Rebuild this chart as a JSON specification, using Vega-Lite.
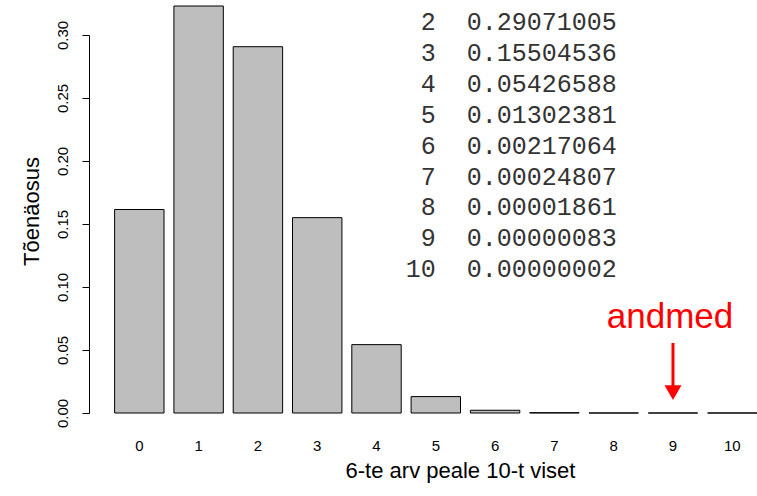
{
  "$schema": "https://vega.github.io/schema/vega-lite/v6.json",
  "width": 668,
  "height": 378,
  "autosize": {"type": "none"},
  "padding": {"left": 89, "top": 35, "right": 0, "bottom": 83},
  "background": "white",
  "config": {"view": {"stroke": null}, "font": "Liberation Sans"},
  "data": {"values": [
    {"k": 0, "p": 0.16150558},
    {"k": 1, "p": 0.32301117},
    {"k": 2, "p": 0.29071005},
    {"k": 3, "p": 0.15504536},
    {"k": 4, "p": 0.05426588},
    {"k": 5, "p": 0.01302381},
    {"k": 6, "p": 0.00217064},
    {"k": 7, "p": 0.00024807},
    {"k": 8, "p": 0.00001861},
    {"k": 9, "p": 0.00000083},
    {"k": 10, "p": 0.00000002}
  ]},
  "layer": [
    {
      "layer": [
        {
          "mark": {"type": "bar", "fill": "#bebebe", "stroke": "#000000", "strokeWidth": 1},
          "encoding": {
            "x": {
              "field": "k", "type": "ordinal",
              "scale": {"paddingInner": 0.1667, "paddingOuter": 0.216, "align": 1},
              "axis": {
                "domain": false, "ticks": false, "tickSize": 0, "labelAngle": 0,
                "labelFontSize": 15, "labelColor": "#000000", "labelPadding": 25,
                "title": "6-te arv peale 10-t viset", "titleFontSize": 22, "titleFontWeight": "normal",
                "titleColor": "#000000", "titleX": 371, "titleY": 57, "titleBaseline": "middle", "titleAlign": "center"
              }
            },
            "y": {
              "field": "p", "type": "quantitative",
              "scale": {"domain": [0, 0.3], "nice": false, "zero": true},
              "axis": {
                "values": [0, 0.05, 0.1, 0.15, 0.2, 0.25, 0.3], "format": ".2f",
                "grid": false, "labelAngle": -90, "labelFlush": false, "labelOverlap": false,
                "tickSize": 7, "tickColor": "#000000", "domainColor": "#000000",
                "labelFontSize": 15, "labelColor": "#000000", "labelPadding": 12,
                "title": "Tõenäosus", "titleFontSize": 22, "titleFontWeight": "normal", "titleColor": "#000000",
                "titleAngle": -90, "titleX": -58, "titleY": 176, "titleBaseline": "middle", "titleAlign": "center"
              }
            }
          }
        },
        {
          "data": {"values": [{}]},
          "mark": {"type": "text", "text": "andmed", "color": "#ff0000", "fontSize": 35, "align": "center", "baseline": "alphabetic", "font": "Liberation Sans", "dx": -3},
          "encoding": {"x": {"datum": 9, "type": "ordinal"}, "y": {"datum": 0.0672, "type": "quantitative"}}
        },
        {
          "data": {"values": [{}]},
          "mark": {"type": "rule", "color": "#ff0000", "strokeWidth": 3},
          "encoding": {"x": {"datum": 9, "type": "ordinal"}, "y": {"datum": 0.0556, "type": "quantitative"}, "y2": {"datum": 0.0175}}
        },
        {
          "data": {"values": [{}]},
          "mark": {"type": "point", "shape": "triangle-down", "filled": true, "color": "#ff0000", "size": 289, "opacity": 1},
          "encoding": {"x": {"datum": 9, "type": "ordinal"}, "y": {"datum": 0.0162, "type": "quantitative"}}
        }
      ]
    },
    {
      "transform": [{"filter": "datum.k >= 2"}],
      "layer": [
        {
          "mark": {"type": "text", "font": "Liberation Mono", "fontSize": 25, "color": "#333333", "align": "right", "baseline": "alphabetic"},
          "encoding": {
            "x": {"datum": 5, "type": "ordinal"},
            "y": {"field": "k", "type": "quantitative", "scale": {"domain": [2.152, 14.409], "reverse": true, "nice": false, "zero": false}, "axis": null},
            "text": {"field": "k", "type": "nominal"}
          }
        },
        {
          "mark": {"type": "text", "font": "Liberation Mono", "fontSize": 25, "color": "#333333", "align": "left", "baseline": "alphabetic", "dx": 31},
          "encoding": {
            "x": {"datum": 5, "type": "ordinal"},
            "y": {"field": "k", "type": "quantitative", "axis": null},
            "text": {"field": "p", "type": "quantitative", "format": ".8f"}
          }
        }
      ]
    }
  ],
  "resolve": {"scale": {"y": "independent"}}
}
